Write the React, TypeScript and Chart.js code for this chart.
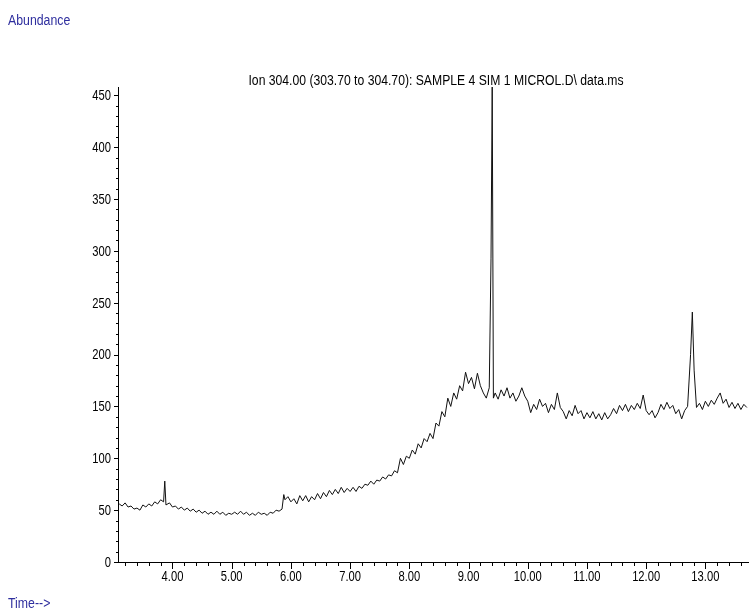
import React, { useEffect, useRef } from "react";
import { Chart, registerables } from "chart.js";

Chart.register(...registerables);

const TITLE = "Ion 304.00 (303.70 to 304.70): SAMPLE 4 SIM 1 MICROL.D\\ data.ms";
const Y_LABEL = "Abundance";
const X_LABEL = "Time-->";

const xTickLabels = [4, 5, 6, 7, 8, 9, 10, 11, 12, 13];
const yTickLabels = [0, 50, 100, 150, 200, 250, 300, 350, 400, 450];

const times = [
  3.10, 3.15, 3.20, 3.25, 3.30, 3.35, 3.40, 3.45, 3.50, 3.55, 3.60, 3.65, 3.70, 3.75, 3.80, 3.85, 3.87, 3.89, 3.95,
  4.00, 4.05, 4.10, 4.15, 4.20, 4.25, 4.30, 4.35, 4.40, 4.45, 4.50, 4.55, 4.60, 4.65, 4.70, 4.75, 4.80, 4.85, 4.90, 4.95,
  5.00, 5.05, 5.10, 5.15, 5.20, 5.25, 5.30, 5.35, 5.40, 5.45, 5.50, 5.55, 5.60, 5.65, 5.70, 5.75, 5.80, 5.85, 5.88, 5.90, 5.95,
  6.00, 6.05, 6.10, 6.15, 6.20, 6.25, 6.30, 6.35, 6.40, 6.45, 6.50, 6.55, 6.60, 6.65, 6.70, 6.75, 6.80, 6.85, 6.90, 6.95,
  7.00, 7.05, 7.10, 7.15, 7.20, 7.25, 7.30, 7.35, 7.40, 7.45, 7.50, 7.55, 7.60, 7.65, 7.70, 7.75, 7.80, 7.85, 7.90, 7.95,
  8.00, 8.05, 8.10, 8.15, 8.20, 8.25, 8.30, 8.35, 8.40, 8.45, 8.50, 8.55, 8.60, 8.65, 8.70, 8.75, 8.80, 8.85, 8.90, 8.95,
  9.00, 9.05, 9.10, 9.15, 9.20, 9.25, 9.30, 9.35, 9.38, 9.40, 9.42, 9.45, 9.50, 9.55, 9.60, 9.65, 9.70, 9.75, 9.80, 9.85, 9.90, 9.95,
  10.00, 10.05, 10.10, 10.15, 10.20, 10.25, 10.30, 10.35, 10.40, 10.45, 10.50, 10.55, 10.60, 10.65, 10.70, 10.75, 10.80, 10.85, 10.90, 10.95,
  11.00, 11.05, 11.10, 11.15, 11.20, 11.25, 11.30, 11.35, 11.40, 11.45, 11.50, 11.55, 11.60, 11.65, 11.70, 11.75, 11.80, 11.85, 11.90, 11.95,
  12.00, 12.05, 12.10, 12.15, 12.20, 12.25, 12.30, 12.35, 12.40, 12.45, 12.50, 12.55, 12.60, 12.65, 12.70, 12.75, 12.78, 12.81, 12.85, 12.90, 12.95,
  13.00, 13.05, 13.10, 13.15, 13.20, 13.25, 13.30, 13.35, 13.40, 13.45, 13.50, 13.55, 13.60, 13.65, 13.70,
];

const abundance = [
  56, 54, 57, 53, 54, 51, 52, 50, 55, 53, 56, 54, 58, 56, 60, 58, 78, 55, 57,
  53, 54, 51, 53, 50, 52, 49, 51, 48, 50, 47, 49, 46, 48, 46, 49, 46, 48, 45, 47,
  46, 48, 46, 49, 46, 48, 45, 47, 45, 48, 46, 47, 45, 48, 47, 50, 49, 51, 65, 60, 63,
  58, 61, 56, 64, 59, 64, 58, 63, 60, 66, 61, 67, 63, 69, 65, 70, 66, 72, 67, 71,
  68, 72, 68, 73, 71, 75, 74, 78, 75, 79, 78, 82, 80, 84, 83, 88, 86, 100, 94, 102,
  100, 108, 104, 114, 110, 119, 116, 124, 119, 134, 131, 145, 140, 158, 150, 163, 157, 170, 165, 183,
  172, 178, 167, 182, 170, 163, 158, 168, 293, 458, 158, 163, 157, 166, 160, 168, 158, 163, 155, 160, 168, 160,
  155, 144, 152, 147, 157, 150, 153, 144, 152, 147, 163, 149, 145, 138, 146, 141, 151, 143, 146, 138,
  144, 139, 145, 138, 143, 137, 144, 138, 142, 148, 143, 151, 146, 152, 145, 151, 147, 153, 148, 161,
  146, 142, 146, 139, 144, 152, 147, 154, 148, 151, 143, 147, 138, 146, 150, 200, 241, 185, 149, 153, 147,
  155, 150, 156, 152, 158, 163, 153, 157, 149, 154, 148, 153, 147, 152, 149,
];

const FONT = "'Liberation Sans', Arial, sans-serif";
const BLUE = "#2e2e9e";

function narrowText(ctx: any, text: string, x: number, y: number, align: "left" | "center" | "right", sx: number) {
  ctx.save();
  ctx.translate(x, y);
  ctx.scale(sx, 1);
  ctx.textAlign = align;
  ctx.textBaseline = "middle";
  ctx.fillText(text, 0, 0);
  ctx.restore();
}

const axisDecor = {
  id: "axisDecor",
  afterDraw(chart: any) {
    const { ctx, chartArea, scales } = chart;
    const x = scales.x;
    const y = scales.y;
    ctx.save();
    ctx.strokeStyle = "#000";
    ctx.lineWidth = 1;
    ctx.beginPath();
    for (let k = Math.ceil(x.min * 5); k <= Math.floor(x.max * 5); k++) {
      const v = k / 5;
      const px = Math.round(x.getPixelForValue(v)) + 0.5;
      const major = k % 5 === 0;
      ctx.moveTo(px, chartArea.bottom);
      ctx.lineTo(px, chartArea.bottom + (major ? 7 : 4));
    }
    for (let v = 0; v <= y.max; v += 10) {
      const py = Math.round(y.getPixelForValue(v)) + 0.5;
      const major = v % 50 === 0;
      ctx.moveTo(chartArea.left, py);
      ctx.lineTo(chartArea.left - (major ? 4 : 2), py);
    }
    ctx.stroke();
    ctx.fillStyle = "#000";
    ctx.font = `14px ${FONT}`;
    xTickLabels.forEach((v) => {
      narrowText(ctx, v.toFixed(2), x.getPixelForValue(v), chartArea.bottom + 15, "center", 0.8);
    });
    yTickLabels.forEach((v) => {
      narrowText(ctx, String(v), chartArea.left - 7, y.getPixelForValue(v) + 1, "right", 0.8);
    });
    narrowText(ctx, TITLE, (chartArea.left + chartArea.right) / 2 + 3, 81, "center", 0.87);
    ctx.restore();
  },
};

export default function App() {
  const ref = useRef<HTMLCanvasElement | null>(null);
  useEffect(() => {
    if (!ref.current) return;
    const chart = new Chart(ref.current, {
      type: "line",
      data: {
        datasets: [
          {
            data: times.map((t, i) => ({ x: t, y: abundance[i] })),
            borderColor: "#111",
            borderWidth: 1,
            pointRadius: 0,
            tension: 0,
            fill: false,
          },
        ],
      },
      options: {
        animation: false,
        responsive: true,
        maintainAspectRatio: false,
        layout: { padding: { top: 87, left: 0, right: 2, bottom: 0 } },
        plugins: { legend: { display: false }, title: { display: false }, tooltip: { enabled: false } },
        scales: {
          x: {
            type: "linear",
            min: 3.08,
            max: 13.72,
            grid: { display: false },
            border: { display: true, color: "#000", width: 1 },
            afterBuildTicks: (s: any) => {
              s.ticks = xTickLabels.map((v) => ({ value: v }));
            },
            afterFit: (s: any) => {
              s.height = 53;
            },
            ticks: { display: false },
          },
          y: {
            type: "linear",
            min: 0,
            max: 458,
            grid: { display: false },
            border: { display: true, color: "#000", width: 1 },
            afterBuildTicks: (s: any) => {
              s.ticks = yTickLabels.map((v) => ({ value: v }));
            },
            afterFit: (s: any) => {
              s.width = 118;
            },
            ticks: { display: false },
          },
        },
      },
      plugins: [axisDecor],
    });
    return () => chart.destroy();
  }, []);

  const labelStyle: React.CSSProperties = {
    position: "absolute",
    left: 8,
    fontFamily: FONT,
    fontSize: 14,
    color: BLUE,
    lineHeight: "16px",
    whiteSpace: "nowrap",
    transform: "scaleX(0.88)",
    transformOrigin: "left center",
  };

  return (
    <div style={{ position: "absolute", left: 0, top: 0, width: 750, height: 615, background: "#fff" }}>
      <canvas ref={ref} style={{ position: "absolute", left: 0, top: 0, width: 750, height: 615 }} />
      <div style={{ ...labelStyle, top: 12 }}>{Y_LABEL}</div>
      <div style={{ ...labelStyle, top: 595 }}>{X_LABEL}</div>
    </div>
  );
}
